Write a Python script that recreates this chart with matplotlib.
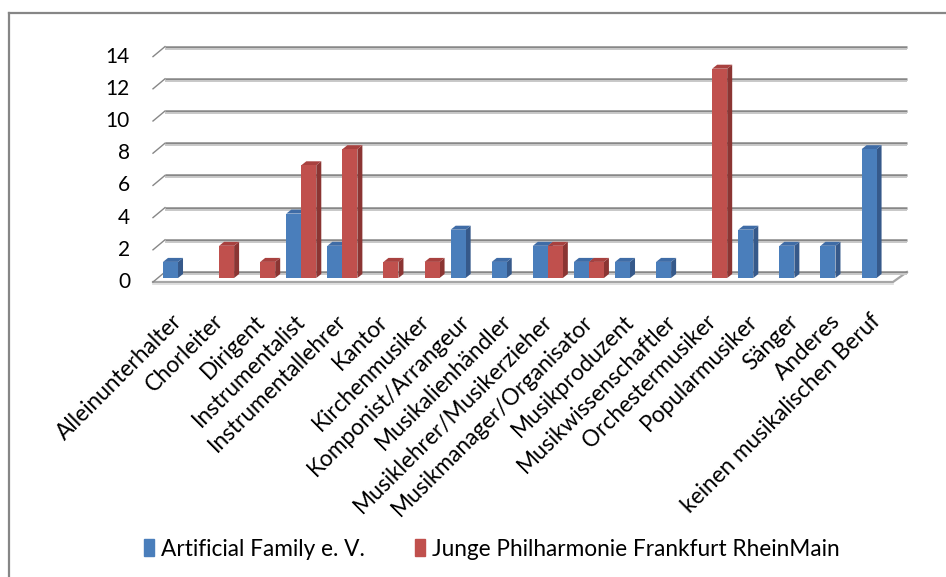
import matplotlib.pyplot as plt
import matplotlib.transforms as mtransforms
from matplotlib.patches import Polygon, Patch
from matplotlib.lines import Line2D
from typing import List

plt.rcParams['font.family'] = ['Lato', 'DejaVu Sans']

categories: List[str] = [
    'Alleinunterhalter', 'Chorleiter', 'Dirigent', 'Instrumentalist',
    'Instrumentallehrer', 'Kantor', 'Kirchenmusiker', 'Komponist/Arrangeur',
    'Musikalienhändler', 'Musiklehrer/Musikerzieher', 'Musikmanager/Organisator',
    'Musikproduzent', 'Musikwissenschaftler', 'Orchestermusiker',
    'Popularmusiker', 'Sänger', 'Anderes', 'keinen musikalischen Beruf',
]
artificial_family: List[int] = [1, 0, 0, 4, 2, 0, 0, 3, 1, 2, 1, 1, 1, 0, 3, 2, 2, 8]
junge_phil: List[int] = [0, 2, 1, 7, 8, 1, 1, 0, 0, 2, 1, 0, 0, 13, 0, 0, 0, 0]
series_names: List[str] = ['Artificial Family e. V.', 'Junge Philharmonie Frankfurt RheinMain']
y_ticks: List[int] = [0, 2, 4, 6, 8, 10, 12, 14]

# face / side / top shades for the fake 3D columns
BLUE = ('#4a7ebb', '#36598a', '#3f6ca6')
RED = ('#c0504d', '#8b3533', '#a8413f')
GRID = '#878787'
GRID_LIGHT = '#c8c8c8'

W, H = 946, 577
fig = plt.figure(figsize=(W / 100, H / 100), dpi=100)
ax = fig.add_axes([155 / W, (H - 278) / H, (893 - 155) / W, 225.4 / H])
ax.set_xlim(-0.56, 17.4)
ax.set_ylim(0, 14)
ax.axis('off')

BAR_W = 0.365
DEPTH = (5, 4)


def at(x, y, dx=0.0, dy=0.0):
    """Data point shifted by (dx, dy) screen pixels, back in data coords."""
    px = ax.transData.transform((x, y))
    return ax.transData.inverted().transform((px[0] + dx, px[1] + dy))


x0, x1 = ax.get_xlim()

# floor
floor = Polygon([at(x0, 0, -2, -4), at(x1, 0, 0, -4), at(x1, 0, 14, 6), at(x0, 0, 10, 6)],
                closed=True, facecolor='white', edgecolor='none', clip_on=False, zorder=1)
ax.add_patch(floor)
fl = [at(x0, 0, -2, -4), at(x1, 0, 0, -4), at(x1, 0, 14, 6)]
ax.plot([p[0] for p in fl], [p[1] for p in fl], color='#a6a6a6', lw=1.6, clip_on=False, zorder=2)
fl2 = [at(x0, 0, -2, -6), at(x1, 0, 0, -6)]
ax.plot([p[0] for p in fl2], [p[1] for p in fl2], color='#d9d9d9', lw=1.2, clip_on=False, zorder=2)

# back wall gridlines with the slanted stubs on the left
for v in y_ticks:
    a, b = at(x0, v, 10, 6), at(x1, v, 14, 6)
    ax.plot([a[0], b[0]], [a[1], b[1]], color=GRID, lw=1.8, clip_on=False, zorder=2,
            solid_capstyle='butt')
    a2, b2 = at(x0, v, 10, 4), at(x1, v, 14, 4)
    ax.plot([a2[0], b2[0]], [a2[1], b2[1]], color=GRID_LIGHT, lw=1.4, clip_on=False, zorder=2,
            solid_capstyle='butt')
    s0, s1 = at(x0, v, -2, -4), at(x0, v, 10, 6)
    ax.plot([s0[0], s1[0]], [s0[1], s1[1]], color=GRID, lw=1.0, clip_on=False, zorder=2)
    lab = at(x0, v, -25, -4)
    ax.text(lab[0], lab[1], str(v), ha='right', va='center', fontsize=15, color='black')


def column(x_left, value, shades, z):
    if value <= 0:
        return
    face, side, top = shades
    dx, dy = DEPTH
    xr = x_left + BAR_W
    side_pts = [at(xr, 0), at(xr, 0, dx, dy), at(xr, value, dx, dy), at(xr, value)]
    top_pts = [at(x_left, value), at(xr, value), at(xr, value, dx, dy), at(x_left, value, dx, dy)]
    ax.add_patch(Polygon(side_pts, closed=True, facecolor=side, edgecolor='none', zorder=z))
    ax.add_patch(Polygon(top_pts, closed=True, facecolor=top, edgecolor='none', zorder=z))
    ax.bar(x_left, value, width=BAR_W, align='edge', color=face, zorder=z + 0.5)


z = 3
for i in range(len(categories)):
    column(i - BAR_W, artificial_family[i], BLUE, z)
    column(i, junge_phil[i], RED, z + 1)
    z += 2

# rotated category labels under the floor
label_tf = mtransforms.offset_copy(ax.transData, fig=fig, x=1, y=-40, units='dots')
for i, name in enumerate(categories):
    ax.text(i, 0, name, transform=label_tf, rotation=45, rotation_mode='anchor',
            ha='right', va='center', fontsize=16.3, clip_on=False)

handles = [Patch(color=BLUE[0]), Patch(color=RED[0])]
fig.legend(handles, series_names, loc='center', bbox_to_anchor=(0.52, (H - 549) / H),
           ncol=2, frameon=False, fontsize=16.3, handlelength=0.45, handleheight=0.75,
           handletextpad=0.3, columnspacing=2.2)

# chart border
fig.add_artist(Line2D([9 / W, 9 / W], [0, 1 - 13 / H], color='#868686', lw=1.6))
fig.add_artist(Line2D([9 / W, 1], [1 - 13 / H, 1 - 13 / H], color='#868686', lw=1.6))

fig.savefig('out.png', dpi=100)
